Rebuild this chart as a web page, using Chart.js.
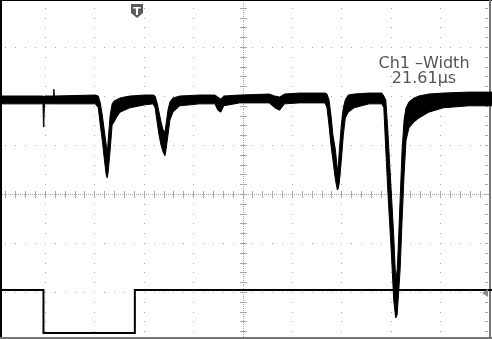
<!DOCTYPE html>
<html>
<head>
<meta charset="utf-8">
<script src="https://cdn.jsdelivr.net/npm/chart.js@4/dist/chart.umd.min.js"></script>
<style>
  html, body { margin: 0; padding: 0; background: #fff; }
  #wrap { width: 492px; height: 339px; position: relative; }
</style>
</head>
<body>
<div id="wrap"><canvas id="scope"></canvas></div>
<script>
// valores en divisiones de pantalla (x: tiempo, y: nivel)
const ch1Time  = [-4.90, -4.09, -4.04, -4.03, -4.02, -4.01, -3.83, -3.82, -3.81, -2.98, -2.92, -2.88, -2.84, -2.80, -2.76, -2.74, -2.72, -2.68, -2.64, -2.60, -2.56, -2.48, -2.28, -1.98,
                  -1.81, -1.77, -1.73, -1.69, -1.65, -1.61, -1.57, -1.55, -1.51, -1.47, -1.41, -1.27, -0.87, -0.56, -0.50, -0.44, -0.38, -0.06, 0.54, 0.65, 0.75, 0.85, 1.15,
                  1.67, 1.71, 1.75, 1.79, 1.83, 1.88, 1.92, 1.94, 1.96, 2.00, 2.04, 2.08, 2.14, 2.26, 2.56, 2.82,
                  2.86, 2.90, 2.94, 2.98, 3.02, 3.06, 3.10, 3.13, 3.15, 3.19, 3.23, 3.27, 3.31, 3.37, 3.47, 3.57, 3.77, 4.07, 4.58, 5.05];
const ch1Upper = [2.00, 2.00, 2.00, 1.98, 2.00, 2.00, 2.00, 2.14, 2.00, 2.02, 2.00, 1.86, 1.61, 1.31, 1.00, 0.80, 1.10, 1.61, 1.84, 1.90, 1.92, 1.96, 2.00, 2.02,
                  2.02, 2.00, 1.86, 1.67, 1.47, 1.31, 1.27, 1.41, 1.71, 1.88, 1.96, 2.00, 2.02, 2.02, 1.98, 1.94, 2.00, 2.02, 2.04, 2.00, 1.98, 2.04, 2.06,
                  2.06, 2.04, 1.92, 1.61, 1.20, 0.90, 0.49, 0.59, 0.90, 1.41, 1.76, 1.92, 2.02, 2.04, 2.06, 2.06,
                  2.00, 1.92, 1.31, 0.59, -0.12, -0.84, -1.76, -1.55, -1.14, -0.12, 0.90, 1.51, 1.76, 1.88, 1.96, 2.00, 2.04, 2.06, 2.08, 2.08];
const ch1Lower = [1.84, 1.84, 1.84, 1.37, 1.51, 1.84, 1.84, 1.84, 1.84, 1.84, 1.76, 1.41, 1.10, 0.73, 0.39, 0.33, 0.45, 0.90, 1.41, 1.47, 1.55, 1.67, 1.76, 1.82,
                  1.84, 1.76, 1.47, 1.20, 1.00, 0.86, 0.78, 0.90, 1.20, 1.51, 1.67, 1.80, 1.84, 1.84, 1.71, 1.67, 1.80, 1.86, 1.86, 1.76, 1.71, 1.84, 1.86,
                  1.86, 1.76, 1.41, 1.00, 0.69, 0.29, 0.08, 0.12, 0.24, 0.69, 1.20, 1.55, 1.67, 1.76, 1.84, 1.84,
                  1.76, 0.90, 0.08, -0.63, -1.35, -2.16, -2.53, -2.47, -2.16, -1.55, -0.53, 0.39, 1.10, 1.35, 1.47, 1.55, 1.67, 1.76, 1.80, 1.80];

const ch2Time  = [-4.91, -4.03, -4.03, -2.18, -2.18, 5.05];
const ch2Level = [-1.96, -1.96, -2.84, -2.84, -1.96, -1.96];

const triggerTime = -2.14;
const measureLines = ['Ch1 \u2013Width', '21.61\u00b5s'];

const xMin = -4.91, xMax = 5.05;
const yMin = -2.96, yMax = 3.96;

function toPoints(xs, ys) {
    return xs.map((x, i) => ({ x: x, y: ys[i] }));
}

// reticula del osciloscopio
const reticle = {
    id: 'reticle',
    beforeDatasetsDraw(chart) {
        const { ctx, chartArea: a, scales: { x, y } } = chart;
        ctx.save();
        ctx.fillStyle = '#a8a8a8';
        // lineas punteadas de cada division
        for (let i = Math.ceil(xMin); i <= Math.floor(xMax); i++) {
            if (i === 0) continue;
            const px = Math.round(x.getPixelForValue(i));
            for (let v = Math.ceil(yMin * 5); v <= yMax * 5; v++) {
                ctx.fillRect(px, Math.round(y.getPixelForValue(v / 5)), 1, 1);
            }
        }
        for (let j = Math.ceil(yMin); j <= Math.floor(yMax); j++) {
            if (j === 0) continue;
            const py = Math.round(y.getPixelForValue(j));
            for (let u = Math.ceil(xMin * 5); u <= xMax * 5; u++) {
                ctx.fillRect(Math.round(x.getPixelForValue(u / 5)), py, 1, 1);
            }
        }
        // ejes centrales con marcas
        const cx = Math.round(x.getPixelForValue(0));
        const cy = Math.round(y.getPixelForValue(0));
        for (let p = a.left; p < a.right; p += 2) ctx.fillRect(p, cy, 1, 1);
        for (let p = a.top; p < a.bottom; p += 2) ctx.fillRect(cx, p, 1, 1);
        for (let u = Math.ceil(xMin * 5); u <= xMax * 5; u++) {
            ctx.fillRect(Math.round(x.getPixelForValue(u / 5)), cy - 3, 1, 7);
        }
        for (let v = Math.ceil(yMin * 5); v <= yMax * 5; v++) {
            ctx.fillRect(cx - 3, Math.round(y.getPixelForValue(v / 5)), 7, 1);
        }
        // marcas en el borde derecho
        for (let v = Math.ceil(yMin * 5); v <= yMax * 5; v++) {
            ctx.fillRect(a.right - 7, Math.round(y.getPixelForValue(v / 5)), 3, 1);
        }
        // bordes
        ctx.fillStyle = '#000';
        ctx.fillRect(a.left, a.top, 2, a.bottom - a.top);
        ctx.fillRect(a.left, a.top, a.right - a.left, 1);
        ctx.fillStyle = '#777';
        ctx.fillRect(a.right - 3, a.top, 2, a.bottom - a.top);
        ctx.fillRect(a.left, a.bottom - 2, a.right - a.left, 2);
        ctx.restore();
    },
    afterDraw(chart) {
        const { ctx, chartArea: a, scales: { x, y } } = chart;
        ctx.save();
        // marcador de disparo
        const tx = Math.round(x.getPixelForValue(triggerTime));
        ctx.fillStyle = '#5a5a5a';
        ctx.beginPath();
        ctx.moveTo(tx - 6, a.top + 4);
        ctx.lineTo(tx + 6, a.top + 4);
        ctx.lineTo(tx + 6, a.top + 13);
        ctx.lineTo(tx, a.top + 18);
        ctx.lineTo(tx - 6, a.top + 13);
        ctx.closePath();
        ctx.fill();
        ctx.fillStyle = '#fff';
        ctx.font = 'bold 11px "DejaVu Sans"';
        ctx.textAlign = 'center';
        ctx.textBaseline = 'alphabetic';
        ctx.fillText('T', tx, a.top + 15);
        // marcador del canal 2
        const my = Math.round(y.getPixelForValue(ch2Level[0])) + 3;
        ctx.fillStyle = '#888';
        ctx.beginPath();
        ctx.moveTo(a.right - 10, my);
        ctx.lineTo(a.right - 4, my - 4);
        ctx.lineTo(a.right - 4, my + 4);
        ctx.closePath();
        ctx.fill();
        // medicion
        ctx.fillStyle = '#555';
        ctx.font = '16px "DejaVu Sans"';
        ctx.fillText(measureLines[0], 424, 68);
        ctx.fillText(measureLines[1], 424, 83);
        ctx.restore();
    }
};

new Chart(document.getElementById('scope'), {
    type: 'line',
    data: {
        datasets: [
            {
                data: toPoints(ch1Time, ch1Upper),
                borderColor: '#000',
                borderWidth: 1,
                pointRadius: 0,
                fill: false
            },
            {
                data: toPoints(ch1Time, ch1Lower),
                borderColor: '#000',
                backgroundColor: '#000',
                borderWidth: 1,
                pointRadius: 0,
                fill: '-1'
            },
            {
                data: toPoints(ch2Time, ch2Level),
                borderColor: '#000',
                borderWidth: 2,
                pointRadius: 0,
                fill: false
            }
        ]
    },
    options: {
        responsive: true,
        maintainAspectRatio: false,
        animation: false,
        layout: { padding: 0 },
        elements: { line: { tension: 0 } },
        plugins: { legend: { display: false }, tooltip: { enabled: false } },
        scales: {
            x: { type: 'linear', min: xMin, max: xMax, display: false },
            y: { type: 'linear', min: yMin, max: yMax, display: false }
        }
    },
    plugins: [reticle]
});
</script>
</body>
</html>
